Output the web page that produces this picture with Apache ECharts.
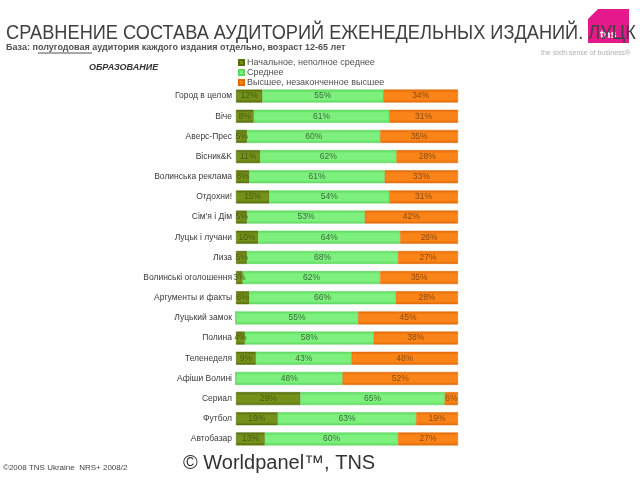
<!DOCTYPE html>
<html>
<head>
<meta charset="utf-8">
<script src="https://cdn.jsdelivr.net/npm/echarts@6/dist/echarts.min.js"></script>
<style>
  html, body { margin: 0; padding: 0; background: #fff; }
  #chart { width: 640px; height: 480px; }
</style>
</head>
<body>
<div id="chart"></div>
<script>
// издания (сверху вниз)
const categories = [
  'Город в целом', 'Віче', 'Аверс-Прес', 'Вісник&K', 'Волинська реклама',
  'Отдохни!', "Сім'я і Дім", 'Луцьк і лучани', 'Лиза', 'Волинські оголошення',
  'Аргументы и факты', 'Луцький замок', 'Полина', 'Теленеделя', 'Афіши Волині',
  'Сериал', 'Футбол', 'Автобазар'
]
const seriesNames = ['Начальное, неполное среднее', 'Среднее', 'Высшее, незаконченное высшее']
const primary = [12, 8, 5, 11, 6, 15, 5, 10, 5, 3, 6, 0, 4, 9, 0, 29, 19, 13]
const secondary = [55, 61, 60, 62, 61, 54, 53, 64, 68, 62, 66, 55, 58, 43, 48, 65, 63, 60]
const higher = [34, 31, 35, 28, 33, 31, 42, 26, 27, 35, 28, 45, 38, 48, 52, 6, 19, 27]

const raw = [primary, secondary, higher]
const colors = ['#74921a', '#7df07d', '#fb8418']
const edge = ['#556d0c', '#5ed85e', '#e06a08']
const labelColors = ['#4a5a10', '#3d6b3d', '#8a4a10']

// подписи в процентах, длина сегмента нормируется на сумму строки
const totals = categories.map((c, i) => primary[i] + secondary[i] + higher[i])

const chart = echarts.init(document.getElementById('chart'))

const series = raw.map((arr, s) => ({
  name: seriesNames[s],
  type: 'bar',
  stack: 'all',
  barWidth: 13,
  data: arr.map((v, i) => v / totals[i] * 100),
  itemStyle: {
    color: new echarts.graphic.LinearGradient(0, 0, 0, 1, [
      { offset: 0, color: edge[s] },
      { offset: 0.25, color: colors[s] },
      { offset: 0.75, color: colors[s] },
      { offset: 1, color: edge[s] }
    ]),
    borderColor: edge[s],
    borderWidth: 0.5
  },
  label: {
    show: true,
    position: 'inside',
    fontSize: 8.5,
    fontFamily: 'Arial',
    color: labelColors[s],
    formatter: (p) => arr[p.dataIndex] ? arr[p.dataIndex] + '%' : ''
  },
  emphasis: { disabled: true }
}))

chart.setOption({
  animation: false,
  backgroundColor: '#fff',
  color: colors,
  legend: {
    orient: 'vertical',
    left: 238,
    top: 58,
    itemWidth: 5,
    itemHeight: 5,
    itemGap: 1,
    icon: 'rect',
    padding: 0,
    data: seriesNames,
    textStyle: { fontSize: 9, lineHeight: 8, color: '#505050', fontFamily: 'Arial', padding: [0, 0, 0, -2] },
    selectedMode: false
  },
  grid: { left: 236, right: 182, top: 86, height: 363 },
  xAxis: { type: 'value', min: 0, max: 100, show: false },
  yAxis: {
    type: 'category',
    inverse: true,
    data: categories,
    axisLine: { show: false },
    axisTick: { show: false },
    axisLabel: { fontSize: 8.5, color: '#3a3a3a', fontFamily: 'Arial', margin: 4 }
  },
  graphic: [
    {
      type: 'polygon',
      shape: { points: [[598, 9], [629, 9], [629, 43], [588, 43], [588, 19]] },
      style: { fill: '#e5198c' }
    },
    {
      type: 'text', left: 600, top: 29,
      style: { text: 'tns', fill: '#fff', font: 'bold 11px Arial' }
    },
    {
      type: 'text', left: 6, top: 23, scaleX: 0.91,
      style: { text: 'СРАВНЕНИЕ СОСТАВА АУДИТОРИЙ ЕЖЕНЕДЕЛЬНЫХ ИЗДАНИЙ. ЛУЦК', fill: '#404040', font: '20px Arial' }
    },
    {
      type: 'text', left: 6, top: 43,
      style: { text: 'База: полугодовая аудитория каждого издания отдельно, возраст 12-65 лет', fill: '#505050', font: 'bold 9px Arial' }
    },
    {
      type: 'line', shape: { x1: 38, y1: 53, x2: 92, y2: 53 },
      style: { stroke: '#505050', lineWidth: 1 }
    },
    {
      type: 'text', left: 541, top: 50,
      style: { text: 'the sixth sense of business\u00ae', fill: '#b0b0b0', font: '7px Arial' }
    },
    {
      type: 'text', left: 89, top: 63,
      style: { text: 'ОБРАЗОВАНИЕ', fill: '#333', font: 'italic bold 9px Arial' }
    },
    {
      type: 'text', left: 3, top: 464,
      style: { text: '\u00a92008 TNS Ukraine  NRS+ 2008/2', fill: '#444', font: '8px Arial' }
    },
    {
      type: 'text', left: 183, top: 453,
      style: { text: '\u00a9 Worldpanel\u2122, TNS', fill: '#333', font: '20px Arial' }
    }
  ],
  series
})
</script>
</body>
</html>
